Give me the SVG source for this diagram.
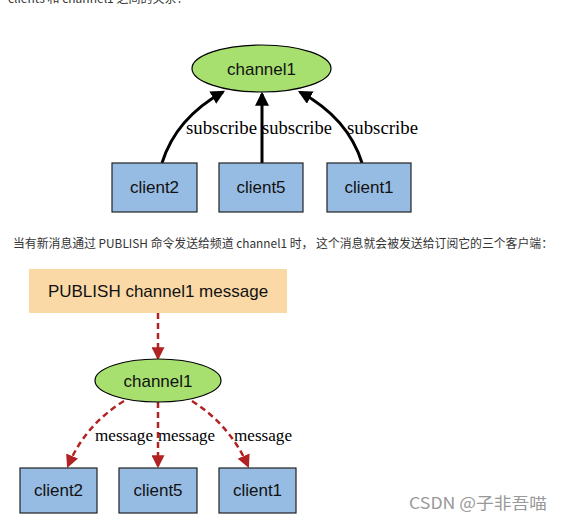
<svg xmlns="http://www.w3.org/2000/svg" width="561" height="523" viewBox="0 0 561 523">
<defs>
<style>
.sans{font-family:"Liberation Sans",Arial,sans-serif;}
.serif{font-family:"Liberation Serif","Times New Roman",serif;}
.cjk{font-family:"Noto Sans CJK SC","Liberation Sans",sans-serif;}
.ell{fill:#a8e06f;stroke:#000;stroke-width:1.2;}
.box{fill:#97bce3;stroke:#222;stroke-width:1.2;}
.sub{fill:none;stroke:#000;stroke-width:3;}
.msg{fill:none;stroke:#b22222;stroke-width:2.5;stroke-dasharray:6,4;}
.nlabel{font-size:17px;fill:#111;text-anchor:middle;}
.elabel{font-size:18px;fill:#000;}
.mlabel{font-size:16.5px;fill:#000;}
</style>
<marker id="ah" viewBox="0 0 12 12" markerWidth="14" markerHeight="14" refX="10" refY="6" orient="auto" markerUnits="userSpaceOnUse">
<path d="M0,0 L12,6 L0,12 z" fill="#000"/>
</marker>
<marker id="ahr" viewBox="0 0 12 12" markerWidth="13" markerHeight="13" refX="10" refY="6" orient="auto" markerUnits="userSpaceOnUse">
<path d="M0,0 L12,6 L0,12 z" fill="#b22222"/>
</marker>
</defs>
<rect width="561" height="523" fill="#fff"/>
<text class="cjk" x="8" y="2.5" font-size="12" fill="#333">clients 和 channel1 之间的关系：</text>

<g id="connectors">
<path class="sub" d="M162,163 Q176,118 223,92" marker-end="url(#ah)"/>
<path class="sub" d="M262,163 L262,94" marker-end="url(#ah)"/>
<path class="sub" d="M362,163 Q348,118 300,92" marker-end="url(#ah)"/>
<text class="serif elabel" x="186" y="134" textLength="71" lengthAdjust="spacingAndGlyphs">subscribe</text>
<text class="serif elabel" x="262" y="134" textLength="70" lengthAdjust="spacingAndGlyphs">subscribe</text>
<text class="serif elabel" x="347" y="134" textLength="71" lengthAdjust="spacingAndGlyphs">subscribe</text>
<path class="msg" d="M158,313 L158,358" marker-end="url(#ahr)"/>
<path class="msg" d="M124,401 Q85,425 68,466" marker-end="url(#ahr)"/>
<path class="msg" d="M158,402 L158,466" marker-end="url(#ahr)"/>
<path class="msg" d="M192,401 Q230,425 248,466" marker-end="url(#ahr)"/>
<text class="serif mlabel" x="95" y="441" textLength="58" lengthAdjust="spacingAndGlyphs">message</text>
<text class="serif mlabel" x="158" y="441" textLength="57" lengthAdjust="spacingAndGlyphs">message</text>
<text class="serif mlabel" x="234" y="441" textLength="58" lengthAdjust="spacingAndGlyphs">message</text>
</g>

<g id="channel1-top">
<ellipse class="ell" cx="261.5" cy="68.5" rx="69.5" ry="23.5"/>
<text class="sans nlabel" x="261.5" y="75" font-size="18">channel1</text>
</g>
<g id="client2-top">
<rect class="box" x="112" y="163" width="85" height="49"/>
<text class="sans nlabel" x="154.5" y="193">client2</text>
</g>
<g id="client5-top">
<rect class="box" x="219" y="163" width="84" height="49"/>
<text class="sans nlabel" x="261" y="193">client5</text>
</g>
<g id="client1-top">
<rect class="box" x="327" y="163" width="84" height="49"/>
<text class="sans nlabel" x="369" y="193">client1</text>
</g>

<text class="cjk" x="13" y="248" font-size="12" fill="#333" textLength="540" lengthAdjust="spacingAndGlyphs">当有新消息通过 PUBLISH 命令发送给频道 channel1 时， 这个消息就会被发送给订阅它的三个客户端：</text>

<g id="publish">
<rect x="29" y="269" width="258" height="44" fill="#fbd9a7"/>
<text class="sans nlabel" x="158" y="297">PUBLISH channel1 message</text>
</g>
<g id="channel1-bottom">
<ellipse class="ell" cx="158" cy="380.5" rx="63" ry="21.5"/>
<text class="sans nlabel" x="158" y="387" font-size="16">channel1</text>
</g>
<g id="client2-bottom">
<rect class="box" x="20" y="468" width="77" height="45"/>
<text class="sans nlabel" x="58.5" y="496" font-size="16">client2</text>
</g>
<g id="client5-bottom">
<rect class="box" x="119" y="468" width="78" height="45"/>
<text class="sans nlabel" x="158" y="496" font-size="16">client5</text>
</g>
<g id="client1-bottom">
<rect class="box" x="219" y="468" width="77" height="45"/>
<text class="sans nlabel" x="257.5" y="496" font-size="16">client1</text>
</g>

<text class="cjk" x="409" y="509" font-size="16" fill="#999" textLength="138" lengthAdjust="spacingAndGlyphs">CSDN @子非吾喵</text>
</svg>
